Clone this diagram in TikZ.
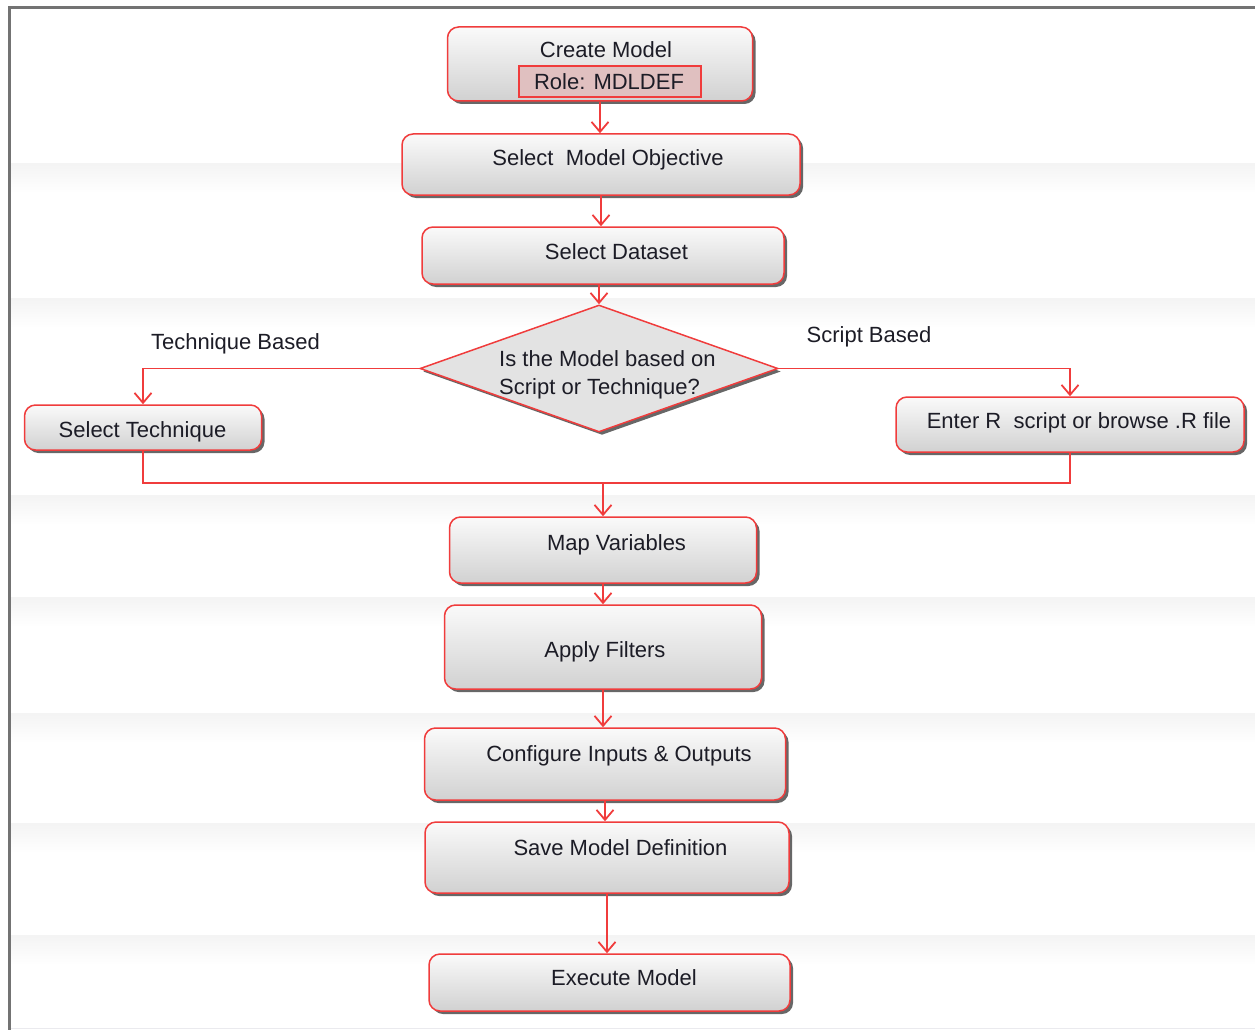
\documentclass[tikz,border=0pt]{standalone}
\usepackage{fontspec}
\setmainfont{Liberation Sans}
\usetikzlibrary{arrows.meta,shapes.geometric,shadows}
\definecolor{boxred}{RGB}{240,60,60}
\definecolor{rolefill}{RGB}{224,192,192}
\definecolor{txt}{RGB}{28,28,38}
\tikzset{
  stepbox/.style={rectangle, rounded corners=11pt, draw=boxred, line width=1.5pt,
    top color=gray!4, bottom color=gray!36, inner sep=0pt,
    drop shadow={shadow xshift=3pt, shadow yshift=-3pt, fill=black!70, opacity=0.85}},
  decision/.style={diamond, draw=boxred, line width=1.5pt, fill=gray!22, inner sep=0pt,
    drop shadow={shadow xshift=3pt, shadow yshift=-3pt, fill=black!70, opacity=0.85}},
  rolebox/.style={rectangle, draw=boxred, line width=1.5pt, fill=rolefill, inner sep=0pt},
  lbl/.style={font=\fontsize{22}{26}\selectfont, text=txt, inner sep=0pt, anchor=base},
  arr/.style={draw=boxred, line width=1.8pt, -{Straight Barb[length=10pt,width=17pt]}},
  conn/.style={draw=boxred, line width=1.8pt},
  band/.style={top color=gray!9, bottom color=white, draw=none},
}
\begin{document}
\begin{tikzpicture}[x=1pt,y=-1pt]
\useasboundingbox (0,0) rectangle (1255,1030);
% faint background bands
\foreach \yy in {163,298,495,597,713,823,935}
  \fill[band] (11,\yy) rectangle (1255,\yy+30);
% frame
\draw[black!55, line width=3pt] (9,1030) -- (9,8) -- (1255,8);
\draw[blue!10!gray!15, line width=1pt] (11,1028) -- (1255,1028);

% boxes
\node[stepbox, minimum width=305pt, minimum height=74pt] (create) at (600,64) {};
\node[rolebox, minimum width=182pt, minimum height=31pt] (role) at (610,81.5) {};
\node[stepbox, minimum width=398pt, minimum height=61pt] (obj) at (601,164.5) {};
\node[stepbox, minimum width=362pt, minimum height=57pt] (data) at (603,255.5) {};
\node[decision, minimum width=358pt, minimum height=127pt] (dec) at (599,368.5) {};
\node[stepbox, minimum width=237pt, minimum height=45pt] (tech) at (143,427.5) {};
\node[stepbox, minimum width=348pt, minimum height=55pt] (script) at (1070,424.5) {};
\node[stepbox, minimum width=307pt, minimum height=66pt] (map) at (603,550) {};
\node[stepbox, minimum width=317pt, minimum height=84pt] (apply) at (603,647) {};
\node[stepbox, minimum width=361pt, minimum height=72pt] (config) at (605,764) {};
\node[stepbox, minimum width=364pt, minimum height=71pt] (save) at (607,857.5) {};
\node[stepbox, minimum width=361pt, minimum height=57pt] (exec) at (609.5,982.5) {};

% texts
\node[lbl] (tcreate) at (606,58) {Create Model};
\node[lbl] (trole) at (609,89.5) {Role: MDLDEF};
\node[lbl] (tobj) at (608,165) {Select\ \ Model Objective};
\node[lbl] (tdata) at (616.5,259) {Select Dataset};
\node[lbl, anchor=base west] (tdec1) at (499,366) {Is the Model based on};
\node[lbl, anchor=base west] (tdec2) at (499,394) {Script or Technique?};
\node[lbl] (ttech) at (142.5,437) {Select Technique};
\node[lbl] (tscript) at (1079,428) {Enter R\ \ script or browse .R file};
\node[lbl] (tmap) at (616.5,550) {Map Variables};
\node[lbl] (tapply) at (605,657) {Apply Filters};
\node[lbl] (tconfig) at (619,761) {Configure Inputs \& Outputs};
\node[lbl] (tsave) at (620.5,855) {Save Model Definition};
\node[lbl] (texec) at (624,985) {Execute Model};
\node[lbl] (ltech) at (235.5,349) {Technique Based};
\node[lbl] (lscript) at (869,342) {Script Based};

% connectors
\draw[arr] (create.south) -- (create.south |- obj.north);
\draw[arr] (obj.south) -- (obj.south |- data.north);
\draw[arr] (data.south -| dec.north) -- (dec.north);
\draw[arr] (dec.west) -| (tech.north);
\draw[arr] (dec.east) -| (script.north);
\coordinate (join) at (603,483);
\draw[conn] (tech.south) |- (join) -| (script.south);
\draw[arr] (join) -- (join |- map.north);
\draw[arr] (map.south) -- (map.south |- apply.north);
\draw[arr] (apply.south) -- (apply.south |- config.north);
\draw[arr] (config.south) -- (config.south |- save.north);
\draw[arr] (save.south) -- (save.south |- exec.north);
\end{tikzpicture}
\end{document}
